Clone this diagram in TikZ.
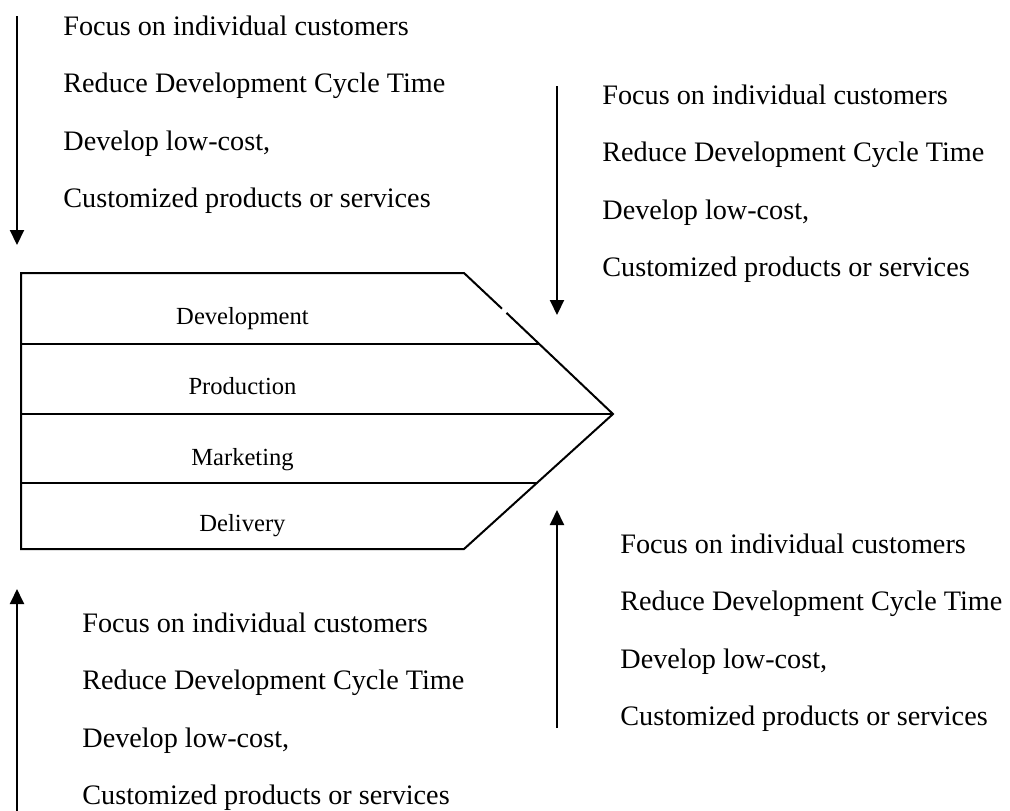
\documentclass[tikz,border=0pt]{standalone}
\usepackage{fontspec}
\setmainfont{Liberation Serif}
\usetikzlibrary{arrows.meta}
\tikzset{
  sidetext/.style={font=\fontsize{14.1pt}{16pt}\selectfont, anchor=base west, inner sep=0pt},
  lanetext/.style={font=\fontsize{12.3pt}{14pt}\selectfont, anchor=base, inner sep=0pt},
  flowarrow/.style={line width=1pt, -{Triangle[width=7pt,length=7.5pt]}},
  outline/.style={line width=1pt, line join=miter}
}
\begin{document}
\begin{tikzpicture}[x=0.5pt,y=-0.5pt]
\useasboundingbox (0,0) rectangle (1010,810);
% shape corner points
\coordinate (A) at (21,273);
\coordinate (B) at (464,273);
\coordinate (G1) at (502,308.7);
\coordinate (G2) at (506.5,312.9);
\coordinate (T) at (613,414);
\coordinate (C) at (464,549);
\coordinate (D) at (21,549);
\draw[outline] (G1) -- (B) -- (A) -- (D) -- (C) -- (T) -- (G2);
% lane dividers
\coordinate (L1a) at (21,344);  \coordinate (L1b) at (539.6,344);
\coordinate (L2a) at (21,414);  \coordinate (L2b) at (613,414);
\coordinate (L3a) at (21,483);  \coordinate (L3b) at (536,483);
\draw[outline] (L1a) -- (L1b);
\draw[outline] (L2a) -- (L2b);
\draw[outline] (L3a) -- (L3b);
% lane labels
\node[lanetext] (dev) at (242.5,324) {Development};
\node[lanetext] (prod) at (242.5,394) {Production};
\node[lanetext] (mkt) at (242.5,465) {Marketing};
\node[lanetext] (del) at (242.5,531) {Delivery};
% arrows
\coordinate (a1s) at (17,16);   \coordinate (a1e) at (17,245);
\coordinate (a2s) at (557,86);  \coordinate (a2e) at (557,315);
\coordinate (a3s) at (557,728); \coordinate (a3e) at (557,510);
\coordinate (a4s) at (17,812);  \coordinate (a4e) at (17,589);
\draw[flowarrow] (a1s) -- (a1e);
\draw[flowarrow] (a2s) -- (a2e);
\draw[flowarrow] (a3s) -- (a3e);
\draw[flowarrow] (a4s) -- (a4e);
% top-left text
\node[sidetext] (tl1) at (63,35) {Focus on individual customers};
\node[sidetext] (tl2) at (63,92.5) {Reduce Development Cycle Time};
\node[sidetext] (tl3) at (63,150) {Develop low-cost,};
\node[sidetext] (tl4) at (63,207.5) {Customized products or services};
% top-right text
\node[sidetext] (tr1) at (602,104) {Focus on individual customers};
\node[sidetext] (tr2) at (602,161.5) {Reduce Development Cycle Time};
\node[sidetext] (tr3) at (602,219) {Develop low-cost,};
\node[sidetext] (tr4) at (602,276.5) {Customized products or services};
% bottom-right text
\node[sidetext] (br1) at (620,553) {Focus on individual customers};
\node[sidetext] (br2) at (620,610.5) {Reduce Development Cycle Time};
\node[sidetext] (br3) at (620,668) {Develop low-cost,};
\node[sidetext] (br4) at (620,725.5) {Customized products or services};
% bottom-left text
\node[sidetext] (bl1) at (82,632) {Focus on individual customers};
\node[sidetext] (bl2) at (82,689.5) {Reduce Development Cycle Time};
\node[sidetext] (bl3) at (82,747) {Develop low-cost,};
\node[sidetext] (bl4) at (82,804.5) {Customized products or services};
\end{tikzpicture}
\end{document}
